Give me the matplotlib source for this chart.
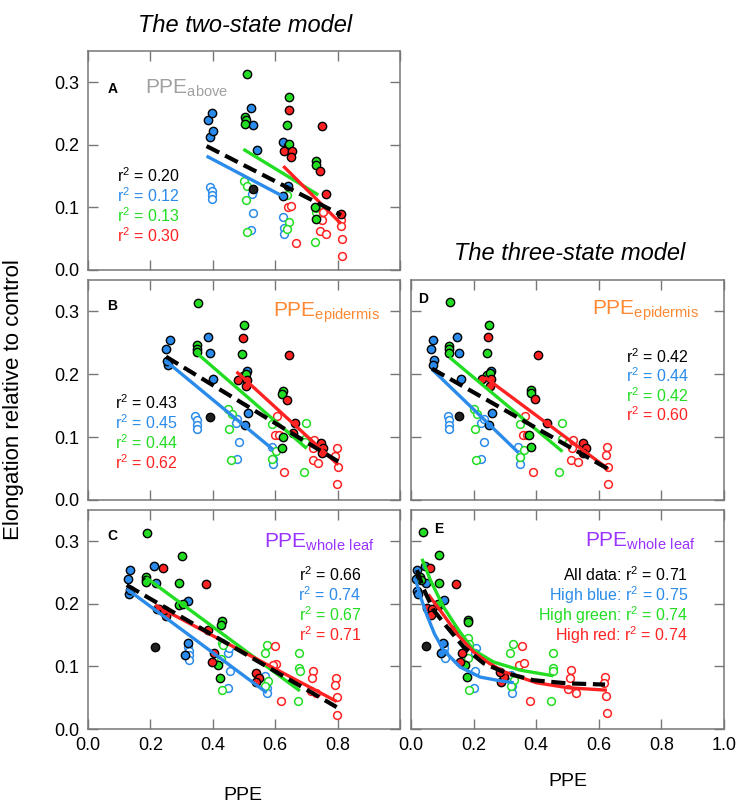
import matplotlib
matplotlib.use('Agg')
import matplotlib.pyplot as plt

plt.rcParams['font.family'] = ['Liberation Sans', 'DejaVu Sans']
plt.rcParams['mathtext.default'] = 'regular'

BLUE = '#2A8BEA'
GREEN = '#22DD22'
RED = '#FF2222'
DARK = '#202020'

# ---- Panel A (two-state, PPE above) ----
A_blue_fill = [(0.384, 0.239), (0.396, 0.251), (0.392, 0.213), (0.400, 0.222), (0.524, 0.259),
               (0.529, 0.232), (0.543, 0.191), (0.624, 0.118), (0.626, 0.204), (0.640, 0.134)]
A_green_fill = [(0.510, 0.313), (0.504, 0.244), (0.506, 0.239), (0.504, 0.234), (0.644, 0.276),
                (0.639, 0.232), (0.640, 0.198), (0.643, 0.201), (0.731, 0.174), (0.732, 0.168),
                (0.729, 0.101), (0.732, 0.081)]
A_red_fill = [(0.645, 0.256), (0.629, 0.190), (0.655, 0.190), (0.652, 0.180), (0.749, 0.230),
              (0.744, 0.158), (0.762, 0.121), (0.811, 0.090)]
A_dark_fill = [(0.528, 0.130)]
A_blue_open = [(0.391, 0.133), (0.396, 0.126), (0.396, 0.120), (0.396, 0.113), (0.530, 0.127),
               (0.525, 0.121), (0.530, 0.091), (0.522, 0.064), (0.626, 0.084), (0.628, 0.067),
               (0.627, 0.057)]
A_green_open = [(0.501, 0.142), (0.511, 0.135), (0.506, 0.112), (0.510, 0.061), (0.637, 0.120),
                (0.643, 0.077), (0.637, 0.065), (0.726, 0.044), (0.731, 0.093), (0.731, 0.099)]
A_red_open = [(0.641, 0.101), (0.650, 0.103), (0.666, 0.043), (0.749, 0.080), (0.752, 0.093),
              (0.745, 0.062), (0.762, 0.057), (0.811, 0.080), (0.811, 0.071), (0.813, 0.049),
              (0.814, 0.023)]
A_fit_all = ([0.380, 0.811], [0.198, 0.088])
A_fit_blue = ([0.380, 0.624], [0.182, 0.118])
A_fit_green = ([0.498, 0.738], [0.193, 0.120])
A_fit_red = ([0.626, 0.811], [0.166, 0.074])
A_r2 = ['0.20', '0.12', '0.13', '0.30']

# ---- Panel B (two-state, PPE epidermis) ----
B_blue_fill = [(0.250, 0.240), (0.263, 0.254), (0.257, 0.215), (0.252, 0.221), (0.384, 0.260),
               (0.391, 0.234), (0.402, 0.192), (0.511, 0.205), (0.512, 0.138), (0.503, 0.119)]
B_green_fill = [(0.354, 0.314), (0.350, 0.246), (0.350, 0.241), (0.350, 0.236), (0.500, 0.278),
                (0.494, 0.233), (0.496, 0.198), (0.506, 0.201), (0.624, 0.174), (0.622, 0.169),
                (0.622, 0.082), (0.625, 0.101)]
B_red_fill = [(0.498, 0.258), (0.480, 0.191), (0.509, 0.191), (0.506, 0.182), (0.643, 0.231),
              (0.637, 0.159), (0.665, 0.122), (0.658, 0.106), (0.748, 0.091), (0.754, 0.083),
              (0.750, 0.075)]
B_dark_fill = [(0.391, 0.132)]
B_blue_open = [(0.343, 0.134), (0.348, 0.127), (0.348, 0.120), (0.348, 0.113), (0.479, 0.129),
               (0.473, 0.122), (0.483, 0.093), (0.476, 0.065), (0.591, 0.084), (0.592, 0.066),
               (0.592, 0.057)]
B_green_open = [(0.450, 0.144), (0.460, 0.137), (0.453, 0.113), (0.457, 0.063), (0.591, 0.121),
                (0.603, 0.078), (0.591, 0.066), (0.691, 0.045), (0.699, 0.122), (0.697, 0.097),
                (0.697, 0.093)]
B_red_open = [(0.607, 0.133), (0.599, 0.103), (0.613, 0.104), (0.629, 0.044), (0.725, 0.095),
              (0.722, 0.083), (0.720, 0.063), (0.736, 0.059), (0.797, 0.082), (0.793, 0.070),
              (0.800, 0.052), (0.799, 0.025)]
B_fit_all = ([0.250, 0.806], [0.228, 0.060])
B_fit_blue = ([0.250, 0.594], [0.221, 0.080])
B_fit_green = ([0.348, 0.701], [0.234, 0.082])
B_fit_red = ([0.476, 0.802], [0.204, 0.056])
B_r2 = ['0.43', '0.45', '0.44', '0.62']

# ---- Panel C (two-state, PPE whole leaf) ----
C_blue_fill = [(0.127, 0.239), (0.134, 0.254), (0.132, 0.215), (0.136, 0.222), (0.213, 0.260),
               (0.218, 0.233), (0.222, 0.192), (0.319, 0.204), (0.319, 0.138), (0.311, 0.119)]
C_green_fill = [(0.188, 0.313), (0.186, 0.243), (0.186, 0.238), (0.186, 0.235), (0.300, 0.276),
                (0.293, 0.233), (0.293, 0.198), (0.306, 0.200), (0.428, 0.172), (0.426, 0.167),
                (0.418, 0.102), (0.423, 0.082)]
C_red_fill = [(0.241, 0.257), (0.228, 0.192), (0.250, 0.181), (0.243, 0.190), (0.378, 0.231),
              (0.385, 0.159), (0.405, 0.122), (0.396, 0.107), (0.537, 0.090), (0.549, 0.082),
              (0.540, 0.075)]
C_dark_fill = [(0.215, 0.131)]
C_blue_open = [(0.319, 0.131), (0.323, 0.125), (0.325, 0.118), (0.325, 0.111), (0.448, 0.122),
               (0.452, 0.129), (0.455, 0.093), (0.448, 0.065), (0.568, 0.085), (0.573, 0.065),
               (0.573, 0.057)]
C_green_open = [(0.428, 0.137), (0.433, 0.134), (0.427, 0.112), (0.431, 0.062), (0.575, 0.135),
                (0.566, 0.121), (0.578, 0.077), (0.567, 0.068), (0.677, 0.122), (0.677, 0.097),
                (0.679, 0.093), (0.673, 0.044)]
C_red_open = [(0.598, 0.133), (0.603, 0.104), (0.594, 0.102), (0.620, 0.044), (0.720, 0.093),
              (0.718, 0.082), (0.714, 0.061), (0.731, 0.058), (0.794, 0.082), (0.792, 0.071),
              (0.797, 0.051), (0.797, 0.023)]
C_fit_all = ([0.124, 0.797], [0.230, 0.035])
C_fit_blue = ([0.124, 0.573], [0.224, 0.058])
C_fit_green = ([0.186, 0.679], [0.242, 0.061])
C_fit_red = ([0.215, 0.797], [0.198, 0.044])
C_r2 = ['0.66', '0.74', '0.67', '0.71']

# ---- Panel D (three-state, PPE epidermis) ----
D_blue_fill = [(0.065, 0.241), (0.070, 0.254), (0.072, 0.223), (0.069, 0.215), (0.147, 0.260),
               (0.152, 0.234), (0.161, 0.193), (0.257, 0.205), (0.258, 0.138), (0.250, 0.120)]
D_green_fill = [(0.126, 0.315), (0.123, 0.245), (0.123, 0.240), (0.123, 0.234), (0.249, 0.278),
                (0.243, 0.234), (0.243, 0.199), (0.253, 0.202), (0.384, 0.175), (0.384, 0.170),
                (0.384, 0.084), (0.376, 0.103)]
D_red_fill = [(0.246, 0.259), (0.228, 0.192), (0.255, 0.192), (0.253, 0.182), (0.407, 0.231),
              (0.397, 0.161), (0.435, 0.122), (0.549, 0.091), (0.559, 0.083), (0.551, 0.074)]
D_dark_fill = [(0.152, 0.133)]
D_blue_open = [(0.118, 0.134), (0.122, 0.128), (0.122, 0.120), (0.122, 0.113), (0.224, 0.122),
               (0.232, 0.129), (0.232, 0.093), (0.223, 0.066), (0.341, 0.085), (0.347, 0.068),
               (0.347, 0.058)]
D_green_open = [(0.202, 0.144), (0.211, 0.137), (0.205, 0.113), (0.207, 0.063), (0.347, 0.121),
                (0.360, 0.079), (0.347, 0.068), (0.472, 0.044), (0.481, 0.122), (0.482, 0.097)]
D_red_open = [(0.363, 0.134), (0.357, 0.104), (0.370, 0.104), (0.389, 0.044), (0.519, 0.095),
              (0.514, 0.082), (0.510, 0.064), (0.533, 0.060), (0.626, 0.084), (0.622, 0.072),
              (0.628, 0.052), (0.629, 0.025)]
D_fit_all = ([0.067, 0.631], [0.209, 0.049])
D_fit_blue = ([0.067, 0.344], [0.208, 0.075])
D_fit_green = ([0.123, 0.484], [0.227, 0.077])
D_fit_red = ([0.237, 0.631], [0.195, 0.049])
D_r2 = ['0.42', '0.44', '0.42', '0.60']

# ---- Panel E (three-state, PPE whole leaf) ----
E_blue_fill = [(0.019, 0.254), (0.017, 0.240), (0.019, 0.220), (0.021, 0.215), (0.046, 0.261),
               (0.049, 0.234), (0.104, 0.206), (0.102, 0.138), (0.096, 0.121)]
E_green_fill = [(0.038, 0.315), (0.030, 0.243), (0.033, 0.238), (0.091, 0.278), (0.088, 0.233),
                (0.091, 0.198), (0.085, 0.200), (0.182, 0.175), (0.181, 0.171), (0.174, 0.103),
                (0.179, 0.083)]
E_red_fill = [(0.060, 0.258), (0.051, 0.194), (0.067, 0.192), (0.064, 0.182), (0.145, 0.231),
              (0.136, 0.159), (0.164, 0.122), (0.155, 0.107), (0.288, 0.075), (0.298, 0.083),
              (0.285, 0.091)]
E_dark_fill = [(0.049, 0.132)]
E_blue_open = [(0.105, 0.136), (0.105, 0.129), (0.107, 0.121), (0.110, 0.113), (0.209, 0.129),
               (0.205, 0.122), (0.206, 0.093), (0.200, 0.066), (0.319, 0.086), (0.324, 0.068),
               (0.324, 0.058)]
E_green_open = [(0.181, 0.145), (0.186, 0.136), (0.182, 0.113), (0.185, 0.063), (0.326, 0.136),
                (0.317, 0.122), (0.330, 0.078), (0.319, 0.068), (0.455, 0.122), (0.455, 0.098),
                (0.455, 0.093), (0.447, 0.045)]
E_red_open = [(0.354, 0.133), (0.345, 0.103), (0.360, 0.105), (0.379, 0.045), (0.512, 0.094),
              (0.509, 0.082), (0.503, 0.064), (0.526, 0.058), (0.620, 0.083), (0.617, 0.073),
              (0.623, 0.052), (0.626, 0.025)]
E_fit_all = ([0.019, 0.040, 0.072, 0.115, 0.168, 0.232, 0.306, 0.391, 0.498, 0.620],
             [0.254, 0.224, 0.190, 0.163, 0.131, 0.105, 0.089, 0.078, 0.073, 0.071])
E_fit_blue = ([0.014, 0.030, 0.050, 0.075, 0.104, 0.157, 0.221, 0.285, 0.328],
              [0.240, 0.212, 0.183, 0.152, 0.126, 0.099, 0.083, 0.077, 0.074])
E_fit_green = ([0.035, 0.062, 0.104, 0.152, 0.200, 0.264, 0.349, 0.455],
               [0.272, 0.238, 0.195, 0.158, 0.126, 0.107, 0.094, 0.085])
E_fit_red = ([0.055, 0.100, 0.150, 0.200, 0.250, 0.300, 0.400, 0.500, 0.626],
             [0.215, 0.185, 0.150, 0.123, 0.105, 0.091, 0.074, 0.066, 0.062])
E_r2 = ['0.71', '0.75', '0.74', '0.74']
E_groups = ['All data: ', 'High blue: ', 'High green: ', 'High red: ']

fig = plt.figure(figsize=(7.42, 8.06), dpi=100)


def px_axes(l, t, r, b):
    return fig.add_axes([l / 742, 1 - b / 806, (r - l) / 742, (b - t) / 806])


def draw_points(ax, blue_f, green_f, red_f, dark_f, blue_o, green_o, red_o):
    for pts, col in [(blue_o, BLUE), (green_o, GREEN), (red_o, RED)]:
        xs, ys = zip(*pts)
        ax.plot(xs, ys, 'o', ms=5.6, mfc='white', mec=col, mew=1.1, ls='none', zorder=2)
    for pts, col in [(blue_f, BLUE), (green_f, GREEN), (red_f, RED), (dark_f, DARK)]:
        xs, ys = zip(*pts)
        ax.plot(xs, ys, 'o', ms=6, mfc=col, mec='black', mew=1.0, ls='none', zorder=3)


def draw_fits(ax, f_all, f_blue, f_green, f_red):
    ax.plot(*f_blue, color=BLUE, lw=2.4, zorder=4, solid_capstyle='butt')
    ax.plot(*f_green, color=GREEN, lw=2.4, zorder=4, solid_capstyle='butt')
    ax.plot(*f_red, color=RED, lw=2.4, zorder=4, solid_capstyle='butt')
    ax.plot(*f_all, color='black', lw=3.0, ls=(0, (3.4, 1.6)), zorder=5)


def style(ax, ylabels, xlabels):
    ax.set_xlim(0, 1.0)
    ax.set_ylim(0, 0.35)
    ax.set_xticks([0, 0.2, 0.4, 0.6, 0.8, 1.0])
    ax.set_yticks([0, 0.1, 0.2, 0.3])
    ax.tick_params(direction='in', length=7, width=1, color='#777777', top=True, right=True,
                   labelsize=13, pad=6)
    if ylabels:
        ax.set_yticklabels(['0.0', '0.1', '0.2', '0.3'])
    else:
        ax.set_yticklabels([])
    if xlabels is None:
        ax.set_xticklabels([])
    else:
        ax.set_xticklabels(xlabels)
    for s in ax.spines.values():
        s.set_color('#777777')
        s.set_linewidth(1.1)


axA = px_axes(88, 51, 400, 270)
axB = px_axes(88, 280, 400, 500)
axC = px_axes(88, 510, 400, 729)
axD = px_axes(411, 280, 724, 500)
axE = px_axes(411, 510, 724, 729)

draw_points(axA, A_blue_fill, A_green_fill, A_red_fill, A_dark_fill, A_blue_open, A_green_open, A_red_open)
draw_fits(axA, A_fit_all, A_fit_blue, A_fit_green, A_fit_red)
draw_points(axB, B_blue_fill, B_green_fill, B_red_fill, B_dark_fill, B_blue_open, B_green_open, B_red_open)
draw_fits(axB, B_fit_all, B_fit_blue, B_fit_green, B_fit_red)
draw_points(axC, C_blue_fill, C_green_fill, C_red_fill, C_dark_fill, C_blue_open, C_green_open, C_red_open)
draw_fits(axC, C_fit_all, C_fit_blue, C_fit_green, C_fit_red)
draw_points(axD, D_blue_fill, D_green_fill, D_red_fill, D_dark_fill, D_blue_open, D_green_open, D_red_open)
draw_fits(axD, D_fit_all, D_fit_blue, D_fit_green, D_fit_red)
draw_points(axE, E_blue_fill, E_green_fill, E_red_fill, E_dark_fill, E_blue_open, E_green_open, E_red_open)
draw_fits(axE, E_fit_all, E_fit_blue, E_fit_green, E_fit_red)

style(axA, True, None)
style(axB, True, None)
style(axC, True, ['0.0', '0.2', '0.4', '0.6', '0.8', ''])
style(axD, False, None)
style(axE, False, ['0.0', '0.2', '0.4', '0.6', '0.8', '1.0'])

r2_colors = ['black', BLUE, GREEN, RED]

# panel letters
for ax, letter, x, y in [(axA, 'A', 0.080, 0.290), (axB, 'B', 0.077, 0.309), (axC, 'C', 0.077, 0.309),
                         (axD, 'D', 0.038, 0.320), (axE, 'E', 0.089, 0.319)]:
    ax.text(x, y, letter, fontsize=10, fontweight='bold', ha='center', va='center')

# PPE names
axA.text(0.183, 0.282, r'PPE$_{above}$', color='#A0A0A0', fontsize=15, ha='left', va='baseline')
axB.text(0.593, 0.292, r'PPE$_{epidermis}$', color='#FF8833', fontsize=15, ha='left', va='baseline')
axC.text(0.564, 0.290, r'PPE$_{whole\ leaf}$', color='#9933FF', fontsize=15, ha='left', va='baseline')
axD.text(0.578, 0.295, r'PPE$_{epidermis}$', color='#FF8833', fontsize=15, ha='left', va='baseline')
axE.text(0.556, 0.291, r'PPE$_{whole\ leaf}$', color='#9933FF', fontsize=15, ha='left', va='baseline')

# r2 values
for i in range(4):
    axA.text(0.093, 0.141 - 0.032 * i, r'r$^{2}$ = ' + A_r2[i], color=r2_colors[i], fontsize=11.5, va='baseline')
    axB.text(0.087, 0.145 - 0.032 * i, r'r$^{2}$ = ' + B_r2[i], color=r2_colors[i], fontsize=11.5, va='baseline')
    axC.text(0.877, 0.236 - 0.032 * i, r'r$^{2}$ = ' + C_r2[i], color=r2_colors[i], fontsize=11.5,
             va='baseline', ha='right')
    axD.text(0.888, 0.218 - 0.031 * i, r'r$^{2}$ = ' + D_r2[i], color=r2_colors[i], fontsize=11.5,
             va='baseline', ha='right')
    axE.text(0.885, 0.236 - 0.032 * i, E_groups[i] + r'r$^{2}$ = ' + E_r2[i], color=r2_colors[i],
             fontsize=11.5, va='baseline', ha='right')

fig.text(245 / 742, 1 - 25 / 806, 'The two-state model', fontsize=17, style='italic', ha='center', va='center')
fig.text(570 / 742, 1 - 254 / 806, 'The three-state model', fontsize=17, style='italic', ha='center', va='center')
fig.text(14 / 742, 1 - 400 / 806, 'Elongation relative to control', fontsize=16, rotation=90,
         ha='center', va='center')
fig.text(243 / 742, 1 - 795 / 806, 'PPE', fontsize=14, ha='center', va='center')
fig.text(568 / 742, 1 - 782 / 806, 'PPE', fontsize=14, ha='center', va='center')

fig.savefig('out.png', dpi=100)
